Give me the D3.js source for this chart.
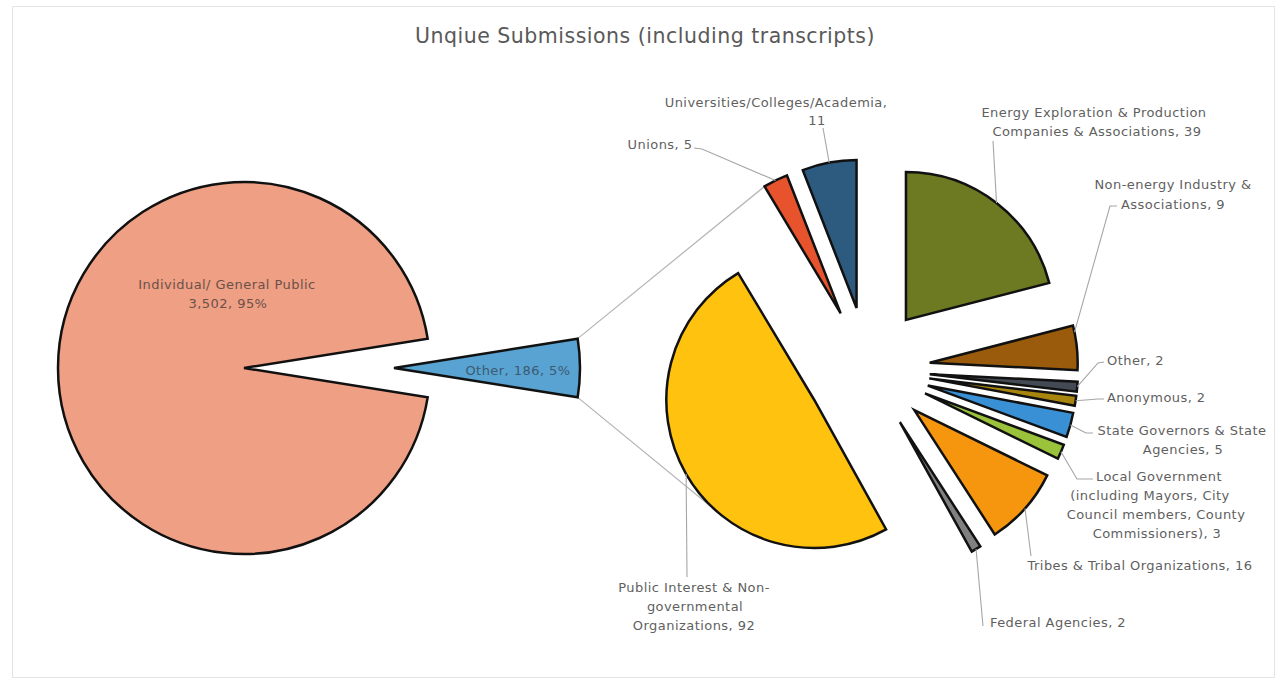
<!DOCTYPE html>
<html>
<head>
<meta charset="utf-8">
<script src="https://cdn.jsdelivr.net/npm/d3@7"></script>
<style>
  html, body { margin: 0; padding: 0; background: #ffffff; }
  svg { display: block; }
  text { font-family: "DejaVu Sans", "Noto Sans", sans-serif; }
</style>
</head>
<body>
<svg id="chart" width="1281" height="683"></svg>
<script>
// ---- Data ----------------------------------------------------------------
const mainCategories = ["Individual/ General Public", "Other"];
const mainValues = [3502, 186];

const subCategories = [
  "Unions",
  "Universities/Colleges/Academia",
  "Energy Exploration & Production Companies & Associations",
  "Non-energy Industry & Associations",
  "Other",
  "Anonymous",
  "State Governors & State Agencies",
  "Local Government (including Mayors, City Council members, County Commissioners)",
  "Tribes & Tribal Organizations",
  "Federal Agencies",
  "Public Interest & Non-governmental Organizations"
];
const subValues = [5, 11, 39, 9, 2, 2, 5, 3, 16, 2, 92];

const mainColors = ["#EF9F84", "#58A3D1"];
const subColors = ["#E6532C", "#2D5B7F", "#6D7A22", "#9A5B0D", "#434A54", "#A7850F",
                   "#3A90D4", "#9AC23B", "#F6960F", "#808080", "#FFC20E"];

// ---- Layout ----------------------------------------------------------------
const W = 1281, H = 683;
const mainCenter = [244, 368], mainR = 186, mainExplode = [0, 150];
const subCenter = [868, 369], subR = 148, subExplode = 62;

const fmt = d3.format(",");
const mainTotal = d3.sum(mainValues);
const pctFmt = d3.format(".0%");

// wrapped label lines; {v} = value, {p} = percent
const mainLabelLayout = [
  { lines: [{ t: "Individual/ General Public", x: 227, y: 284 }, { t: "{v}, {p}", x: 228, y: 303 }], fill: "#6a5149" },
  { lines: [{ t: "Other, {v}, {p}", x: 518, y: 370 }], fill: "#3d5a72" }
];

const subLabelLayout = [
  { lines: [{ t: "Unions, {v}", x: 660, y: 144 }], leader: [[694, 148], [702, 149]] },
  { lines: [{ t: "Universities/Colleges/Academia,", x: 776, y: 102 }, { t: "{v}", x: 817, y: 120 }], leader: [[823, 128]] },
  { lines: [{ t: "Energy Exploration & Production", x: 1094, y: 112 }, { t: "Companies & Associations, {v}", x: 1097, y: 131 }], leader: [[993, 141]] },
  { lines: [{ t: "Non-energy Industry &", x: 1173, y: 184 }, { t: "Associations, {v}", x: 1173, y: 204 }], leader: [[1117, 206], [1110, 206]], frac: 0.15 },
  { lines: [{ t: "Other, {v}", x: 1107, y: 360, anchor: "start" }], leader: [[1104, 362], [1098, 363]] },
  { lines: [{ t: "Anonymous, {v}", x: 1107, y: 397, anchor: "start" }], leader: [[1104, 399], [1098, 399]] },
  { lines: [{ t: "State Governors & State", x: 1182, y: 430 }, { t: "Agencies, {v}", x: 1183, y: 449 }], leader: [[1093, 433], [1086, 433]] },
  { lines: [{ t: "Local Government", x: 1159, y: 476 }, { t: "(including Mayors, City", x: 1150, y: 495 },
            { t: "Council members, County", x: 1156, y: 514 }, { t: "Commissioners), {v}", x: 1157, y: 533 }],
    leader: [[1093, 479], [1077, 479]] },
  { lines: [{ t: "Tribes & Tribal Organizations, {v}", x: 1140, y: 565 }], leader: [[1031, 556]] },
  { lines: [{ t: "Federal Agencies, {v}", x: 1058, y: 622 }], leader: [[983, 626]] },
  { lines: [{ t: "Public Interest & Non-", x: 694, y: 587 }, { t: "governmental", x: 695, y: 606 },
            { t: "Organizations, {v}", x: 694, y: 625 }], leader: [[687, 577]] }
];

// ---- Drawing -----------------------------------------------------------------
const svg = d3.select("#chart");

// chart frame
svg.append("rect")
  .attr("x", 12.5).attr("y", 6.5).attr("width", 1262).attr("height", 671)
  .attr("fill", "#ffffff").attr("stroke", "#e4e4e4").attr("stroke-width", 1);

svg.append("text")
  .attr("x", 645).attr("y", 36)
  .attr("text-anchor", "middle").attr("dominant-baseline", "central")
  .attr("font-size", 20.5).attr("letter-spacing", 0.5).attr("fill", "#595959")
  .text("Unqiue Submissions (including transcripts)");

// polar helpers (angle 0 at 12 o'clock, clockwise, as d3.arc uses)
const polar = (c, r, a) => [c[0] + r * Math.sin(a), c[1] - r * Math.cos(a)];
const mid = d => (d.startAngle + d.endAngle) / 2;

// main pie: "Other" slice centred on 3 o'clock
const otherShare = mainValues[1] / mainTotal;
const mainStart = Math.PI / 2 + Math.PI * otherShare;
const mainArcs = d3.pie().sort(null).value(d => d)
  .startAngle(mainStart).endAngle(mainStart + 2 * Math.PI)(mainValues);
mainArcs.forEach((d, i) => {
  d.origin = polar(mainCenter, mainExplode[i], mid(d));
});

// secondary pie: breakdown of "Other", first slice ending just short of 12 o'clock
const subFirstTwo = subValues[0] + subValues[1];
const subTotal = d3.sum(subValues);
const subStart = -2 * Math.PI * subFirstTwo / subTotal;
const subArcs = d3.pie().sort(null).value(d => d)
  .startAngle(subStart).endAngle(subStart + 2 * Math.PI)(subValues);
subArcs.forEach(d => { d.origin = polar(subCenter, subExplode, mid(d)); });

// series lines joining the two pies
const otherArc = mainArcs[1];
const topFrom = polar(otherArc.origin, mainR, otherArc.startAngle);
const botFrom = polar(otherArc.origin, mainR, otherArc.endAngle);
const topTo = polar(subArcs[0].origin, subR, subArcs[0].startAngle);
// tangent point on the largest secondary slice seen from the lower corner
const big = subArcs[subArcs.length - 1];
const P = big.origin;
const dx = botFrom[0] - P[0], dy = botFrom[1] - P[1];
const dist = Math.hypot(dx, dy);
const base = Math.atan2(dy, dx);
const t1 = base - Math.acos(subR / dist), t2 = base + Math.acos(subR / dist);
const cand = [t1, t2].map(t => [P[0] + subR * Math.cos(t), P[1] + subR * Math.sin(t)]);
const botTo = cand[0][1] > cand[1][1] ? cand[0] : cand[1];

svg.append("g").selectAll("line")
  .data([[topFrom, topTo], [botFrom, botTo]])
  .join("line")
  .attr("x1", d => d[0][0]).attr("y1", d => d[0][1])
  .attr("x2", d => d[1][0]).attr("y2", d => d[1][1])
  .attr("stroke", "#b3b3b3").attr("stroke-width", 1.2);

// slices
const mainArcGen = d3.arc().innerRadius(0).outerRadius(mainR);
svg.append("g").selectAll("path")
  .data(mainArcs)
  .join("path")
  .attr("transform", d => `translate(${d.origin[0]},${d.origin[1]})`)
  .attr("d", mainArcGen)
  .attr("fill", (d, i) => mainColors[i])
  .attr("stroke", "#111111").attr("stroke-width", 2.5).attr("stroke-linejoin", "miter");

const subArcGen = d3.arc().innerRadius(0).outerRadius(subR);
svg.append("g").selectAll("path")
  .data(subArcs)
  .join("path")
  .attr("transform", d => `translate(${d.origin[0]},${d.origin[1]})`)
  .attr("d", subArcGen)
  .attr("fill", (d, i) => subColors[i])
  .attr("stroke", "#111111").attr("stroke-width", 2.5).attr("stroke-linejoin", "miter");

// leader lines to the secondary slices
const leaderLine = d3.line();
svg.append("g").selectAll("path")
  .data(subArcs)
  .join("path")
  .attr("d", (d, i) => {
    const L = subLabelLayout[i];
    const f = L.frac == null ? 0.5 : L.frac;
    const a = d.startAngle + (d.endAngle - d.startAngle) * f;
    const end = polar(d.origin, subR, a);
    return leaderLine([...L.leader, end]);
  })
  .attr("fill", "none").attr("stroke", "#a6a6a6").attr("stroke-width", 1.1);

// labels
function drawLabel(g, layout, value, pct, fill) {
  layout.lines.forEach(l => {
    g.append("text")
      .attr("x", l.x).attr("y", l.y)
      .attr("text-anchor", l.anchor || "middle")
      .attr("dominant-baseline", "central")
      .attr("font-size", 13).attr("letter-spacing", 0.45).attr("fill", fill)
      .text(l.t.replace("{v}", fmt(value)).replace("{p}", pct));
  });
}

const labelG = svg.append("g");
mainArcs.forEach((d, i) => {
  drawLabel(labelG, mainLabelLayout[i], mainValues[i], pctFmt(mainValues[i] / mainTotal), mainLabelLayout[i].fill);
});
subArcs.forEach((d, i) => {
  drawLabel(labelG, subLabelLayout[i], subValues[i], "", "#5f5f5f");
});
</script>
</body>
</html>
